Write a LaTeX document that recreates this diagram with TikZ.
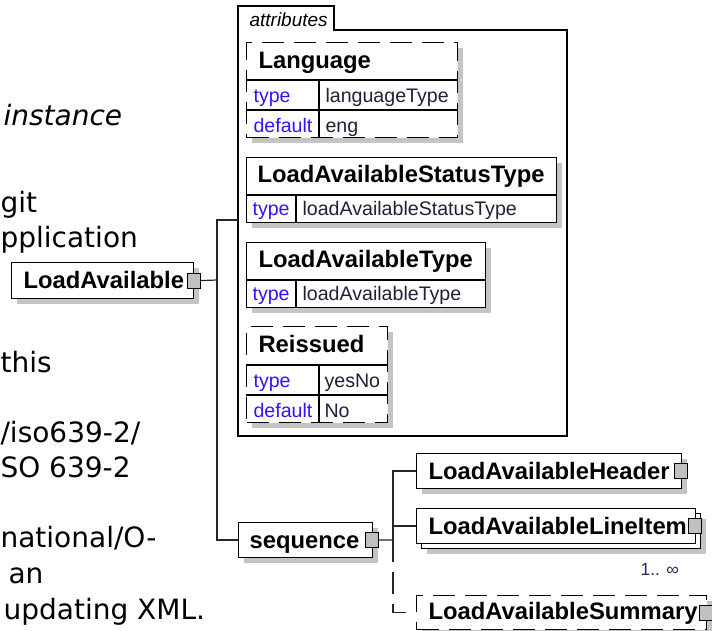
\documentclass[tikz,border=0pt]{standalone}
\usepackage{fontspec}
\setmainfont{Liberation Sans}
\newfontfamily\docfont{DejaVu Sans}
\usetikzlibrary{shadows}
\definecolor{shade}{HTML}{C4C4C4}
\definecolor{kw}{HTML}{3A10FF}
\definecolor{val}{HTML}{20203A}
\definecolor{occ}{HTML}{26265E}
\definecolor{sq}{HTML}{C0C0C0}
\begin{document}
\begin{tikzpicture}[x=1pt,y=-1pt,line width=1.1pt,
  plainbox/.style={draw=black, fill=white, inner sep=0pt, anchor=north west},
  box/.style={plainbox, general shadow={fill=shade, shadow xshift=5pt, shadow yshift=-5pt}},
  dbox/.style={box, dash pattern=on 22pt off 10pt},
  hdr/.style={font=\fontsize{23.8}{24}\selectfont\bfseries, anchor=base west, inner sep=0pt},
  kwt/.style={font=\fontsize{19.6}{20}\selectfont, text=kw, anchor=base west, inner sep=0pt},
  valt/.style={font=\fontsize{19.6}{20}\selectfont, text=val, anchor=base west, inner sep=0pt},
  doc/.style={font=\docfont\fontsize{28}{30}\selectfont, anchor=base west, inner sep=0pt},
  sqr/.style={draw=black, fill=sq, minimum width=13pt, minimum height=15pt, inner sep=0pt, line width=1pt},
  wire/.style={draw=black!85, line width=1.2pt},
  grid/.style={draw=black, line width=1.1pt}
]
\useasboundingbox (0,0) rectangle (712,630);
\clip (0,0) rectangle (712,630);
\fill[white] (0,0) rectangle (712,630);

% documentation text
\node[doc, font=\docfont\itshape\fontsize{28}{30}\selectfont] (d1) at (3,125) {instance};
\node[doc] (d2) at (0,212) {git};
\node[doc] (d3) at (0,247) {pplication};
\node[doc] (d4) at (0,372) {this};
\node[doc] (d5) at (0,442) {/iso639-2/};
\node[doc] (d6) at (0,477) {SO 639-2};
\node[doc] (d7) at (0,547) {national/O-};
\node[doc] (d8) at (8,583) {an};
\node[doc] (d9) at (3,619) {updating XML.};

% attributes container
\draw[line width=1.1pt] (238,6) -- (334,6) -- (334,30) -- (567,30) -- (567,436) -- (238,436) -- cycle;
\node[font=\itshape\fontsize{19}{20}\selectfont, anchor=base west, inner sep=0pt] (tabt) at (249,26.5) {attributes};
\coordinate (attrsIn) at (238,220);

% Language
\node[dbox, minimum width=211pt, minimum height=95pt] (LG) at (246,42) {};
\draw[grid] (246,80) -- (457,80) (246,110) -- (457,110) (319,80) -- (319,137);
\node[hdr] (LGt) at (258,68) {Language};
\node[kwt] (LGk1) at (253,102) {type};
\node[valt] (LGv1) at (325,102) {languageType};
\node[kwt] (LGk2) at (253,132) {default};
\node[valt] (LGv2) at (325,132) {eng};

% LoadAvailableStatusType
\node[box, minimum width=310pt, minimum height=65pt] (ST) at (246,157) {};
\draw[grid] (246,195) -- (556,195) (296,195) -- (296,222);
\node[hdr] (STt) at (257,182) {LoadAvailableStatusType};
\node[kwt] (STk) at (252,215) {type};
\node[valt] (STv) at (302,215) {loadAvailableStatusType};

% LoadAvailableType
\node[box, minimum width=239pt, minimum height=65pt] (LT) at (246,242) {};
\draw[grid] (246,280) -- (485,280) (296,280) -- (296,307);
\node[hdr] (LTt) at (258,267) {LoadAvailableType};
\node[kwt] (LTk) at (252,300) {type};
\node[valt] (LTv) at (302,300) {loadAvailableType};

% Reissued
\node[dbox, minimum width=141pt, minimum height=96pt] (RI) at (246,326) {};
\draw[grid] (246,365) -- (387,365) (246,395) -- (387,395) (319,365) -- (319,422);
\node[hdr] (RIt) at (258,352) {Reissued};
\node[kwt] (RIk1) at (253,387) {type};
\node[valt] (RIv1) at (324,387) {yesNo};
\node[kwt] (RIk2) at (253,417) {default};
\node[valt] (RIv2) at (324,417) {No};

% LoadAvailable
\node[box, minimum width=182pt, minimum height=36pt] (LA) at (11,262) {};
\node[hdr] (LAt) at (23,288.5) {LoadAvailable};
\node[sqr] (LAs) at (LA.east) {};
\coordinate (j1) at (217,280);

% sequence
\node[box, minimum width=134pt, minimum height=35pt] (SEQ) at (238,522) {};
\node[hdr] (SEQt) at (249,548) {sequence};
\node[sqr] (SEQs) at ([xshift=-1pt]SEQ.east) {};
\coordinate (j2) at (393,540);

% children
\node[box, minimum width=265pt, minimum height=35pt] (HDR) at (416,453) {};
\node[hdr] (HDRt) at (428,479.5) {LoadAvailableHeader};
\node[sqr] (HDRs) at ([xshift=-1pt]HDR.east) {};

\node[box, minimum width=279pt, minimum height=35pt] (LIb) at (421,513) {};
\node[plainbox, minimum width=279pt, minimum height=35pt] (LI) at (416,508) {};
\node[hdr] (LIt) at (428,534.5) {LoadAvailableLineItem};
\node[sqr] (LIs) at ([xshift=-1pt]LI.east) {};
\node[font=\fontsize{17.5}{18}\selectfont, text=occ, anchor=base west, inner sep=0pt] (occ) at (640,575) {1.. ∞};

\node[dbox, minimum width=290pt, minimum height=34pt] (SUM) at (416,595) {};
\node[hdr] (SUMt) at (428,619.5) {LoadAvailableSummary};
\node[sqr] (SUMs) at ([xshift=-1pt]SUM.east) {};

% connectors
\draw[wire] (LAs.east) -- (j1);
\draw[wire] (attrsIn) -- (attrsIn -| j1) -- (j1 |- SEQ.west) -- (SEQ.west);
\draw[wire] (SEQs.east) -- (j2);
\draw[wire] (j2) -- (j2 |- HDR.west) -- (HDR.west);
\draw[wire] (j2 |- LI.west) -- (LI.west);
\draw[wire, dash pattern=on 22pt off 10pt] (j2) -- (j2 |- SUM.west) -- (SUM.west);
\end{tikzpicture}
\end{document}
